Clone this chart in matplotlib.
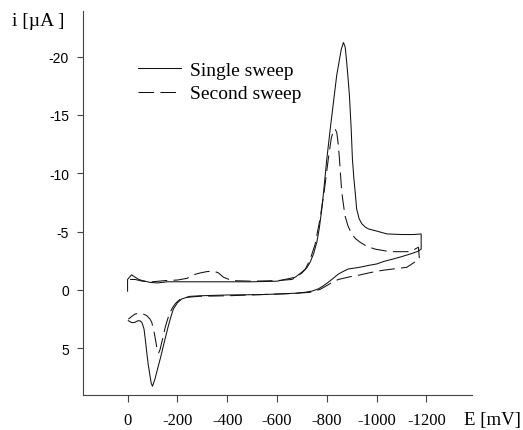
import matplotlib
matplotlib.use("Agg")
from matplotlib import pyplot as plt

plt.rcParams["axes.unicode_minus"] = False

# single sweep: forward scan (0 -> -1180 mV) then reverse scan
single_fwd_E = [0, 0, -8, -16, -30, -45, -60, -90, -120, -160, -200, -300, -400, -500, -600,
                -673, -700, -720, -733, -747, -760, -770, -780, -790, -800, -815, -830, -840,
                -849, -858, -867, -874, -880, -886, -891, -898, -903, -909, -914, -920, -930,
                -941, -954, -967, -994, -1042, -1100, -1150, -1179]
single_fwd_i = [0.1, -0.9, -1.1, -1.3, -1.1, -0.9, -0.8, -0.65, -0.6, -0.7, -0.7, -0.7, -0.7, -0.7, -0.75,
                -1.09, -1.52, -1.9, -2.37, -3.1, -4.09, -5.3, -6.94, -9.0, -11.2, -14.0, -16.65, -18.4,
                -19.5, -20.6, -21.2, -20.8, -19.5, -18.0, -16.65, -13.8, -11.2, -9.5, -8.4, -6.94, -6.1,
                -5.66, -5.4, -5.23, -5.08, -4.8, -4.75, -4.75, -4.8]
single_rev_E = [-1179, -1165, -1135, -1100, -1068, -1030, -1001, -967, -934, -910, -887, -867, -847,
                -826, -806, -786, -766, -740, -713, -673, -600, -532, -400, -291, -250, -218, -200,
                -184, -174, -164, -154, -144, -137, -131, -120, -110, -104, -100, -95, -90, -83, -77,
                -71, -66, -61, -57, -50, -43, -36, -30, -20, -14, -3]
single_rev_i = [-3.5, -3.3, -3.08, -2.85, -2.66, -2.45, -2.23, -2.1, -1.95, -1.87, -1.8, -1.6, -1.37,
                -1.0, -0.66, -0.35, -0.09, 0.1, 0.2, 0.28, 0.35, 0.4, 0.43, 0.5, 0.55, 0.77, 1.1,
                1.63, 2.3, 3.06, 3.9, 4.77, 5.4, 5.91, 6.8, 7.63, 8.0, 8.25, 8.0, 7.34, 6.4, 5.34,
                4.2, 3.34, 3.0, 2.77, 2.65, 2.63, 2.7, 2.77, 2.8, 2.77, 2.63]

# second sweep
second_fwd_E = [-10, -30, -60, -100, -150, -200, -240, -265, -290, -318, -345, -365, -385, -420,
                -500, -600, -660, -680, -700, -713, -733, -753, -773, -790, -800, -806, -818, -826,
                -833, -840, -846, -851, -860, -873, -885, -900, -915, -934, -960, -994, -1054,
                -1100, -1135, -1168]
second_fwd_i = [-0.9, -0.9, -0.75, -0.7, -0.8, -0.85, -1.0, -1.3, -1.45, -1.57, -1.62, -1.46, -1.09, -0.8,
                -0.75, -0.8, -0.9, -1.15, -1.45, -1.75, -2.6, -3.9, -6.1, -8.5, -10.2, -11.2, -13.0, -13.6,
                -13.8, -13.5, -12.5, -11.2, -8.4, -6.37, -5.5, -4.8, -4.4, -4.09, -3.75, -3.5, -3.28,
                -3.28, -3.28, -3.66]
second_rev_E = [-1168, -1172, -1161, -1140, -1121, -1095, -1068, -1030, -1001, -967, -934, -910, -887,
                -867, -847, -826, -806, -790, -773, -750, -733, -700, -673, -600, -532, -400, -291,
                -238, -211, -200, -191, -181, -171, -164, -157, -150, -144, -137, -131, -127, -124,
                -119, -114, -109, -104, -97, -90, -77, -63, -50, -30, -15, -3]
second_rev_i = [-3.66, -2.66, -2.5, -2.2, -1.94, -1.87, -1.8, -1.7, -1.6, -1.45, -1.29, -1.2, -1.1,
                -1.0, -0.9, -0.7, -0.45, -0.25, -0.05, 0.1, 0.2, 0.25, 0.3, 0.35, 0.4, 0.5, 0.54,
                0.63, 0.8, 1.0, 1.2, 1.5, 1.91, 2.3, 2.77, 3.3, 3.92, 4.5, 5.06, 5.3, 5.4,
                5.2, 4.48, 3.9, 3.34, 2.77, 2.49, 2.2, 2.06, 1.99, 2.06, 2.3, 2.5]

x_ticks = [0, -200, -400, -600, -800, -1000, -1200]
y_ticks = [5, 0, -5, -10, -15, -20]
labels = ["Single sweep", "Second sweep"]

serif = "Liberation Serif"
sans = "Liberation Sans"

fig = plt.figure(figsize=(5.23, 4.31), dpi=100)
ax = fig.add_axes([83 / 523, 35 / 431, 388.7 / 523, 384 / 431])

ax.plot(single_fwd_E + single_rev_E, single_fwd_i + single_rev_i,
        color="#111111", lw=0.75, label=labels[0])
ax.plot(second_fwd_E + second_rev_E, second_fwd_i + second_rev_i,
        color="#111111", lw=0.75, dashes=(15, 6), label=labels[1])

ax.set_xlim(179, -1382)
ax.set_ylim(9.0, -23.9)

for s in ["top", "right"]:
    ax.spines[s].set_visible(False)
for s in ["left", "bottom"]:
    ax.spines[s].set_color("#444444")
    ax.spines[s].set_linewidth(0.8)

ax.set_xticks(x_ticks)
ax.set_xticklabels([str(v) for v in x_ticks], family=serif, fontsize=12)
ax.set_yticks(y_ticks)
ax.set_yticklabels([str(v) for v in y_ticks], family=sans, fontsize=10)
ax.tick_params(axis="x", length=5, width=0.8, color="#444444", pad=7)
ax.tick_params(axis="y", length=4.5, width=0.8, color="#444444", pad=5.5)

fig.text(11.7 / 523, 1 - 21 / 431, "i [\u00b5A ]", family=serif, fontsize=14, va="center", ha="left")
fig.text(464 / 523, 1 - 421 / 431, "E [mV]", family=serif, fontsize=13.5, va="center", ha="left")

ax.legend(loc="upper left", bbox_to_anchor=(138 / 523, 1 - 62 / 431), bbox_transform=fig.transFigure,
          frameon=False, prop={"family": serif, "size": 14}, handlelength=2.2,
          handletextpad=0.5, labelspacing=0.32, borderpad=0, borderaxespad=0)

plt.savefig("out.png", dpi=100)
